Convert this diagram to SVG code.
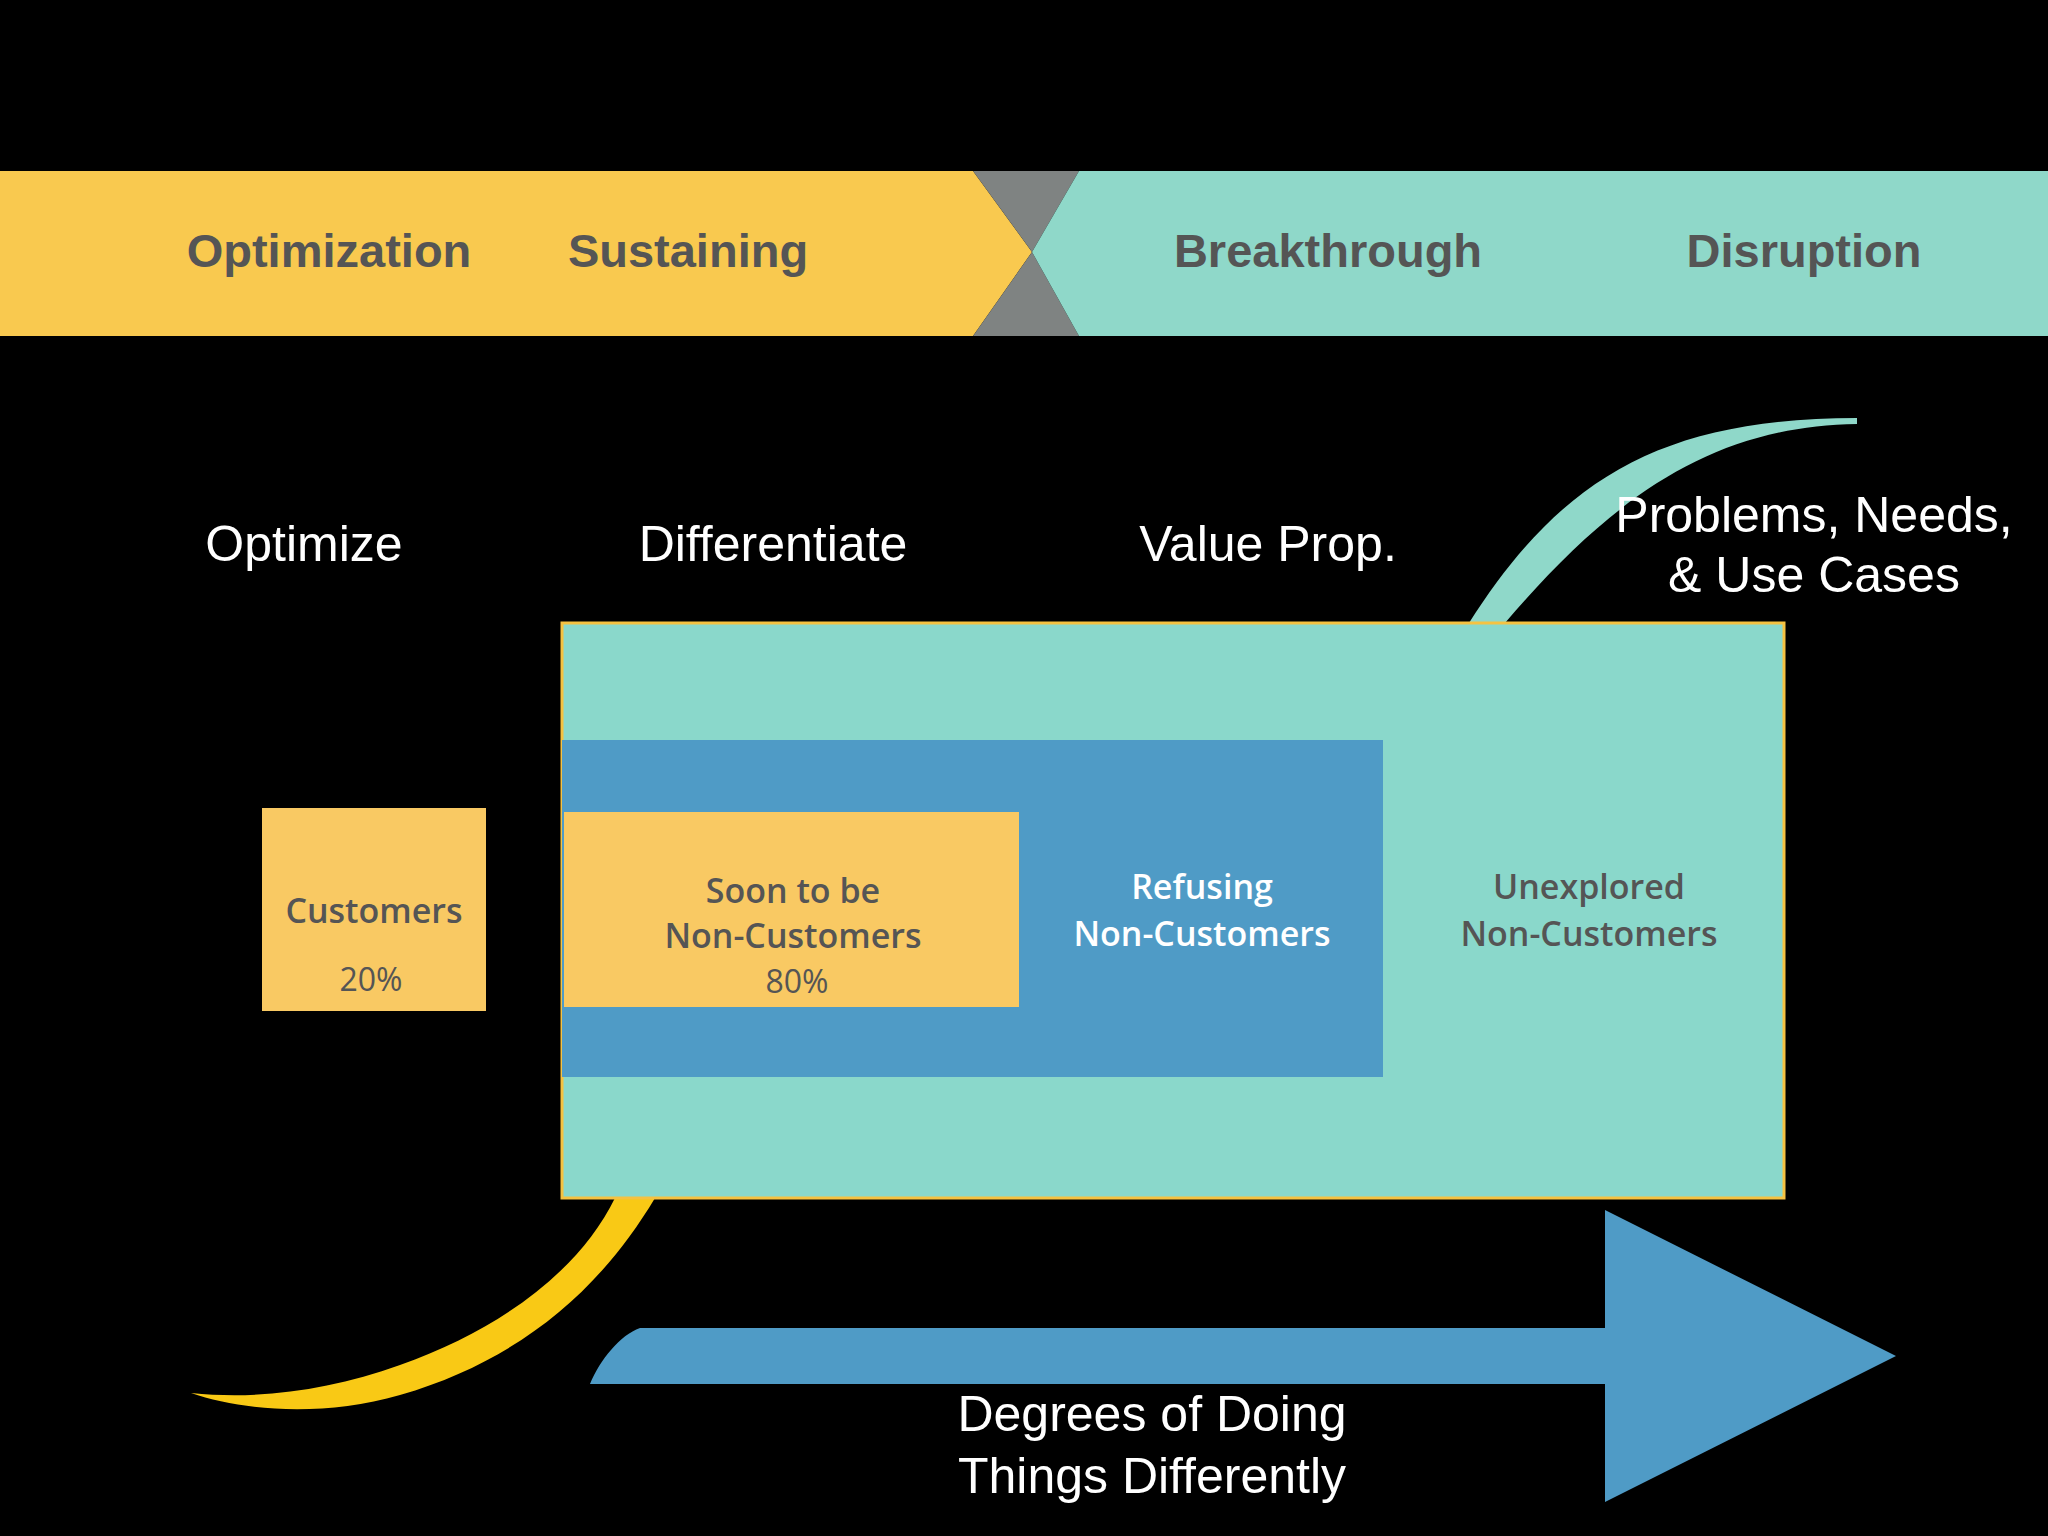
<svg xmlns="http://www.w3.org/2000/svg" width="2048" height="1536" viewBox="0 0 2048 1536">
<style>
.hd{font-family:"Liberation Sans",Arial,sans-serif;font-weight:bold;font-size:47px;fill:#555;text-anchor:middle}
.lb{font-family:"Liberation Sans",Arial,sans-serif;font-size:50px;fill:#fff;text-anchor:middle}
.bx{font-family:"Open Sans",sans-serif;font-weight:600;font-size:34px;fill:#555;text-anchor:middle}
.pc{font-family:"Open Sans",sans-serif;font-size:32px;fill:#555;text-anchor:middle}
</style>
<rect width="2048" height="1536" fill="#000"/>
<g id="band">
<polygon points="0,171 973,171 1032,252 973,336 0,336" fill="#f9c94f"/>
<polygon points="973,171 1079,171 1032,252" fill="#7f8382"/>
<polygon points="973,336 1079,336 1032,252" fill="#7f8382"/>
<polygon points="1079,171 2048,171 2048,336 1079,336 1032,252" fill="#8fd8c9"/>
<text class="hd" x="329" y="267">Optimization</text>
<text class="hd" x="688" y="267">Sustaining</text>
<text class="hd" x="1328" y="267">Breakthrough</text>
<text class="hd" x="1804" y="267">Disruption</text>
</g>
<g id="labels">
<text class="lb" x="304" y="561">Optimize</text>
<text class="lb" x="773" y="561">Differentiate</text>
<text class="lb" x="1268" y="561">Value Prop.</text>
</g>
<g id="connectors">
<path d="M1469,623 C1560,480 1660,418 1857,418 L1857,424 C1710,426 1610,500 1505,623 Z" fill="#8fd8c9"/>
<path d="M655,1198 C600,1290 520,1360 400,1395 C320,1418 240,1410 191,1393 C260,1400 330,1390 400,1365 C500,1330 580,1270 615,1198 Z" fill="#f9c915"/>
<path d="M590,1384 C600,1360 620,1335 640,1328 L1605,1328 L1605,1210 L1896,1356 L1605,1502 L1605,1384 Z" fill="#4f9bc6"/>
<text class="lb" x="1152" y="1431">Degrees of Doing</text>
<text class="lb" x="1152" y="1493">Things Differently</text>
</g>
<g id="problems">
<text class="lb" x="1814" y="532">Problems, Needs,</text>
<text class="lb" x="1814" y="592">&amp; Use Cases</text>
</g>
<g id="unexplored">
<rect x="562" y="623" width="1222" height="575" fill="#8ad8cb" stroke="#f5c242" stroke-width="3"/>
<text class="bx" x="1589" y="899">Unexplored</text>
<text class="bx" x="1589" y="946">Non-Customers</text>
</g>
<g id="refusing">
<rect x="562" y="740" width="821" height="337" fill="#4f9bc6"/>
<text class="bx" x="1202" y="899" style="fill:#fff">Refusing</text>
<text class="bx" x="1202" y="946" style="fill:#fff">Non-Customers</text>
</g>
<g id="soon">
<rect x="564" y="812" width="455" height="195" fill="#f9c963"/>
<text class="bx" x="793" y="903">Soon to be</text>
<text class="bx" x="793" y="948">Non-Customers</text>
<text class="pc" x="797" y="993">80%</text>
</g>
<g id="customers">
<rect x="262" y="808" width="224" height="203" fill="#f9c963"/>
<text class="bx" x="374" y="923">Customers</text>
<text class="pc" x="371" y="991">20%</text>
</g>
</svg>
